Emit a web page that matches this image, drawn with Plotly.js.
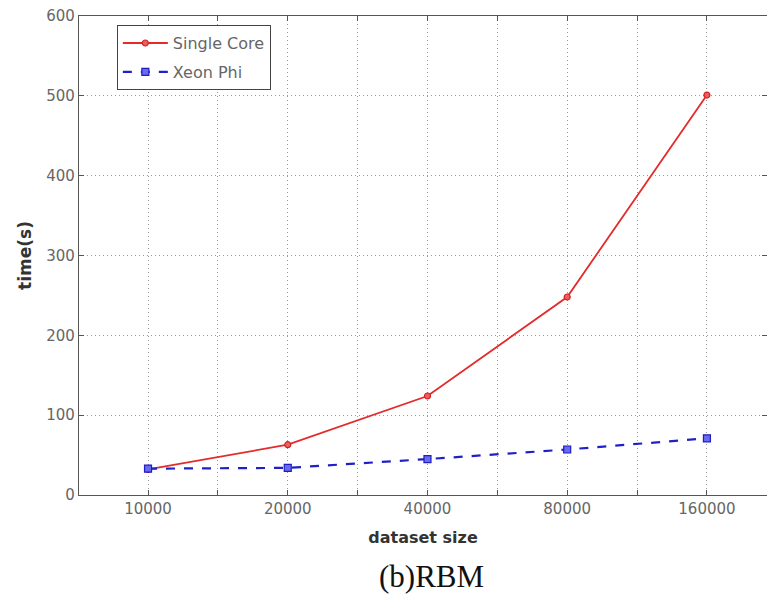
<!DOCTYPE html>
<html>
<head>
<meta charset="utf-8">
<script src="https://cdn.plot.ly/plotly-3.0.1.min.js"></script>
<style>html,body{margin:0;padding:0;background:#fff;overflow:hidden;}#chart{width:767px;height:595px;}</style>
</head>
<body>
<div id="chart"></div>
<script>
const categories = ['10000', '20000', '40000', '80000', '160000'];
const singleCore = [32, 63, 124, 248, 501];
const xeonPhi = [33, 34, 45, 57, 71];
const yTicks = [0, 100, 200, 300, 400, 500, 600];

const xPos = categories.map((c, i) => i);
const tickVals = [];
const tickText = [];
categories.forEach((c, i) => {
  tickVals.push(i); tickText.push(c);
  tickVals.push(i + 0.5); tickText.push('');
});

const traces = [
  {
    x: xPos, y: singleCore, name: 'Single Core', type: 'scatter', mode: 'lines+markers',
    legendgroup: 'a',
    line: {color: '#e32b2b', width: 1.8},
    marker: {symbol: 'circle', size: 6, color: '#e86060', line: {color: '#d81e1e', width: 1.2}}
  },
  {
    x: xPos, y: xeonPhi, name: 'Xeon Phi', type: 'scatter', mode: 'lines+markers',
    legendgroup: 'b',
    line: {color: '#2020c8', width: 2.2, dash: 'dash'},
    marker: {symbol: 'square', size: 7, color: '#6a6af0', line: {color: '#1d1dc0', width: 1.2}}
  }
];

const axisCommon = {
  showline: true, linecolor: '#555', linewidth: 1.2, mirror: 'ticks',
  ticks: 'inside', ticklen: 5, tickcolor: '#555',
  showgrid: true, gridcolor: '#999', griddash: '1px,3px', gridwidth: 1,
  zeroline: false,
  tickfont: {family: 'DejaVu Sans, sans-serif', size: 15, color: '#666'}
};

const layout = {
  width: 767, height: 595,
  margin: {l: 79, r: 0, t: 16, b: 100},
  paper_bgcolor: '#fff', plot_bgcolor: '#fff',
  showlegend: true,
  legend: {
    x: 0.055, y: 0.981, xanchor: 'left', yanchor: 'top',
    bgcolor: '#fff', bordercolor: '#444', borderwidth: 1,
    font: {family: 'DejaVu Sans, sans-serif', size: 16, color: '#666'},
    traceorder: 'grouped', tracegroupgap: 5, itemwidth: 45
  },
  xaxis: Object.assign({}, axisCommon, {
    range: [-0.494, 4.43],
    tickmode: 'array', tickvals: tickVals, ticktext: tickText,
    title: {text: '<b>dataset size</b>', standoff: 14,
      font: {family: 'DejaVu Sans, sans-serif', size: 16, color: '#333'}}
  }),
  yaxis: Object.assign({}, axisCommon, {
    range: [0, 600], tickmode: 'array', tickvals: yTicks,
    title: {text: '<b>time(s)</b>', standoff: 10,
      font: {family: 'DejaVu Sans, sans-serif', size: 17, color: '#333'}}
  }),
  annotations: [{
    text: '(b)RBM', xref: 'paper', yref: 'paper', x: (431 - 79) / 688, y: (495 - 576) / 479,
    xanchor: 'center', yanchor: 'middle', showarrow: false,
    font: {family: 'Liberation Serif, Times New Roman, serif', size: 31, color: '#111'}
  }]
};

Plotly.newPlot('chart', traces, layout, {displayModeBar: false, staticPlot: true});
</script>
</body>
</html>
